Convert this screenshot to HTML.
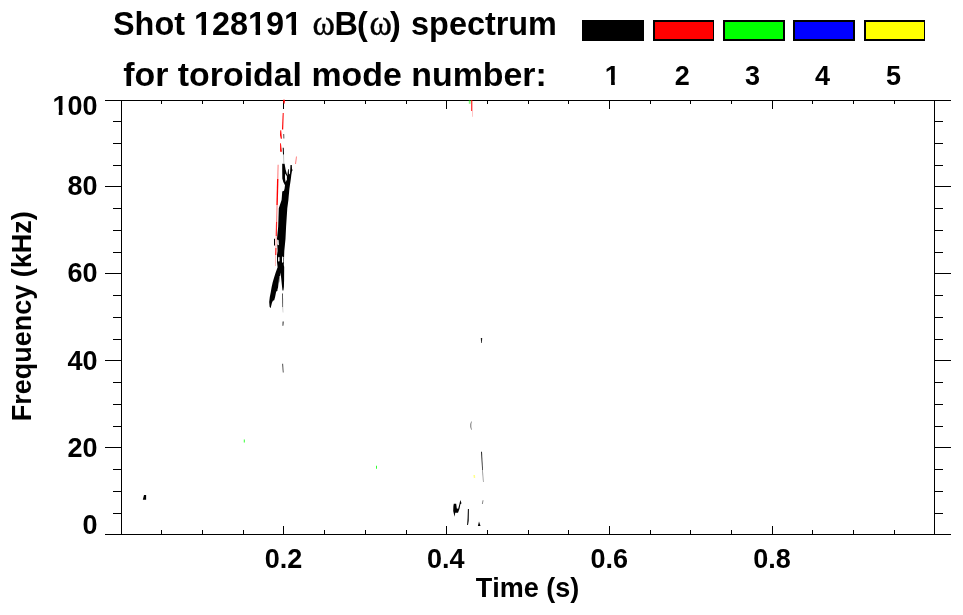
<!DOCTYPE html>
<html><head><meta charset="utf-8"><title>Shot 128191 spectrum</title>
<style>
html,body{margin:0;padding:0;background:#fff;}
body{width:963px;height:615px;overflow:hidden;font-family:"Liberation Sans",sans-serif;}
svg{display:block;will-change:transform;}
.b{font-family:"Liberation Sans",sans-serif;font-weight:bold;fill:#000;font-kerning:none;}
.sym{font-family:"Liberation Serif",serif;font-weight:normal;}
</style></head><body>
<svg width="963" height="615" viewBox="0 0 963 615">
<rect width="963" height="615" fill="#fff"/>
<g class="b" font-size="34">
<text transform="translate(113.0 35.3) scale(0.953 1)">Shot 128191</text>
<rect x="194.78" y="29.63" width="6.77" height="6.47" fill="#fff"/><rect x="206.00" y="29.63" width="6.58" height="6.47" fill="#fff"/><rect x="248.84" y="29.63" width="6.77" height="6.47" fill="#fff"/><rect x="260.06" y="29.63" width="6.58" height="6.47" fill="#fff"/><rect x="284.88" y="29.63" width="6.77" height="6.47" fill="#fff"/><rect x="296.10" y="29.63" width="6.58" height="6.47" fill="#fff"/>
<text class="sym" font-size="36" stroke="#000" stroke-width="0.45" transform="translate(312.6 35.4) scale(0.945 1)">ω</text>
<text transform="translate(334.6 35.3) scale(0.953 1)">B</text>
<text transform="translate(357.0 35.3) scale(0.953 1)">(</text>
<text class="sym" font-size="36" stroke="#000" stroke-width="0.45" transform="translate(369.4 35.4) scale(0.945 1)">ω</text>
<text transform="translate(389.9 35.3) scale(0.953 1)">)</text>
<text transform="translate(411.0924326171875 35.3) scale(0.953 1)">spectrum</text>
<text transform="translate(123.2 85.7) scale(0.997 1)">for toroidal mode number:</text>
</g>
<g shape-rendering="crispEdges">
<rect x="582" y="20" width="62" height="21" fill="#000"/><rect x="584" y="22" width="58" height="17" fill="#000000"/>
<rect x="653" y="20" width="61" height="21" fill="#000"/><rect x="655" y="22" width="58" height="17" fill="#ff0000"/>
<rect x="723" y="20" width="62" height="21" fill="#000"/><rect x="725" y="22" width="58" height="17" fill="#00ff00"/>
<rect x="793" y="20" width="62" height="21" fill="#000"/><rect x="795" y="22" width="58" height="17" fill="#0000ff"/>
<rect x="864" y="20" width="61" height="21" fill="#000"/><rect x="866" y="22" width="58" height="17" fill="#ffff00"/>
</g>
<g class="b" font-size="27" text-anchor="middle">
<text x="612.3" y="84.6">1</text>
<rect x="605.45" y="79.64" width="5.64" height="5.76" fill="#fff"/><rect x="614.80" y="79.64" width="5.48" height="5.76" fill="#fff"/>
<text x="682.3" y="84.6">2</text>
<text x="752.5" y="84.6">3</text>
<text x="822.4" y="84.6">4</text>
<text x="893.4" y="84.6">5</text>
</g>
<path d="M105 100.5H951M105 534.5H951M121.5 100V535M934.5 100V535M161.5 100v4M161.5 535v-5M202.5 100v4M202.5 535v-5M243.5 100v4M243.5 535v-5M283.5 100v9M283.5 535v-9M324.5 100v4M324.5 535v-5M365.5 100v4M365.5 535v-5M406.5 100v4M406.5 535v-5M446.5 100v9M446.5 535v-9M487.5 100v4M487.5 535v-5M528.5 100v4M528.5 535v-5M568.5 100v4M568.5 535v-5M609.5 100v9M609.5 535v-9M650.5 100v4M650.5 535v-5M690.5 100v4M690.5 535v-5M731.5 100v4M731.5 535v-5M772.5 100v9M772.5 535v-9M812.5 100v4M812.5 535v-5M853.5 100v4M853.5 535v-5M894.5 100v4M894.5 535v-5M113 121.5H121M935 121.5H943M113 143.5H121M935 143.5H943M113 165.5H121M935 165.5H943M105 186.5H121M935 186.5H951M113 208.5H121M935 208.5H943M113 230.5H121M935 230.5H943M113 252.5H121M935 252.5H943M105 273.5H121M935 273.5H951M113 295.5H121M935 295.5H943M113 317.5H121M935 317.5H943M113 339.5H121M935 339.5H943M105 360.5H121M935 360.5H951M113 382.5H121M935 382.5H943M113 404.5H121M935 404.5H943M113 426.5H121M935 426.5H943M105 447.5H121M935 447.5H951M113 469.5H121M935 469.5H943M113 491.5H121M935 491.5H943M113 513.5H121M935 513.5H943" stroke="#000" stroke-width="1" fill="none" shape-rendering="crispEdges"/>
<g class="b" font-size="27" text-anchor="end">
<text x="97.5" y="114.6">100</text>
<rect x="53.11" y="109.64" width="5.64" height="5.76" fill="#fff"/><rect x="62.46" y="109.64" width="5.48" height="5.76" fill="#fff"/>
<text x="97.5" y="195.0">80</text>
<text x="97.5" y="282.4">60</text>
<text x="97.5" y="369.7">40</text>
<text x="97.5" y="456.7">20</text>
<text x="97.5" y="534.4">0</text>
</g>
<g class="b" font-size="27" text-anchor="middle">
<text x="283.4" y="568">0.2</text>
<text x="445.7" y="568">0.4</text>
<text x="609.3" y="568">0.6</text>
<text x="771.9" y="568">0.8</text>
<text x="527.6" y="596.6">Time (s)</text>
<text transform="translate(30.9 316.3) rotate(-90)">Frequency (kHz)</text>
</g>
<g id="data">
<!-- main mode n=1 (black) chirp near t=0.2 s -->
<path fill="#000" d="M282.2 163.8 L284.6 163.8 L285.6 169.5 L287.3 175.5 L288 170 L288.3 169 L288.8 169.2 L289 174.5 L290 173.5 L290.5 165 L291.8 165 L292 169 L292.6 170 L291.9 171.5 L291.3 175 L290.9 178.5 L290.4 182 L289.9 185.3 L289.4 188.7 L289.1 192.2 L288.7 196.3 L288.4 200 L287.3 208.3 L286.1 226.6 L285.5 238.8 L284.3 251 L283.8 265 L284.2 267 L284.1 280 L283.9 287 L283.4 290.4 L282.5 290.4 L282.1 287.2 L281.1 277.5 L280.4 272.6 L279.9 277.5 L279.2 282 L278.1 287.2 L277.3 291 L276.2 291.6 L275.1 297 L274.2 300.2 L272.9 300.8 L271.9 303 L270.6 308.2 L269.6 306.7 L269.2 302 L269.8 297 L270.8 292 L271.6 287.2 L272.7 282.3 L274.1 277.5 L275.6 272.8 L277.6 267.2 L277 262 L277 255 L277.6 251 L277 238.8 L278.2 226.6 L278.8 208.3 L281.6 200 L281.9 196.3 L282.2 192.2 L282.2 191.5 L284 190.8 L284.6 188.5 L285 185.3 L283.3 181.9 L282.3 178.5 L282.2 170 Z"/>
<path fill="#fff" d="M285.1 173.6 L286.9 176.2 L286.9 179.4 L285.6 182.2 L285 178 Z"/>
<path fill="#fff" d="M282 257.3 L282.7 256.3 L283.4 257.3 L283.4 262 L282.7 263 L282 262 Z"/>
<path fill="#fff" d="M278.1 257.6 L278.8 256.8 L279.5 257.6 L279.5 261 L278.8 261.8 L278.1 261 Z"/>
<path fill="#fff" d="M279.3 276 L279.9 276 L278.2 290 L277.7 290 Z" opacity="0.8"/>
<path fill="#fff" d="M277.2 239.5 L278.6 240.3 L278.9 245.2 L277.2 244.6 Z"/>
<path fill="#000" d="M282.2 293.5 L283 293.5 L283.1 307 L282.4 307 Z" opacity="0.85"/>
<path fill="#000" d="M282.4 307 L283.1 307 L283.3 312.6 L282.8 312.6 Z" opacity="0.3"/>
<path fill="#000" d="M282.6 321.5 L283.8 321.5 L283.4 325.8 L282.4 325.8 Z" opacity="0.75"/>
<path fill="#000" d="M282.1 363.8 L283.1 363.8 L283.7 372.6 L282.8 372.6 Z" opacity="0.7"/>
<path fill="#000" d="M274 238.8 L275 238.8 L275 245.6 L274 245.6 Z"/>
<!-- upper black fragments -->
<path fill="#000" d="M283.1 134 L284.2 134 L284.4 138.4 L283.3 138.4 Z" opacity="0.6"/>
<path fill="#000" d="M282.7 147.8 L283.7 147.8 L284 154.6 L283 154.6 Z"/>
<path fill="#000" d="M283 154.6 L284 154.6 L284.3 163.5 L283.4 163.5 Z" opacity="0.25"/>
<!-- n=2 (red) -->
<path fill="#f00" d="M283 99.8 L285 99.8 L285 101 L284.6 103.8 L283.8 103.8 L283 102 Z" opacity="0.9"/>
<path fill="#f00" d="M282.7 113 L283.7 113 L283.2 129.6 L282 129.6 Z"/>
<path fill="#f00" d="M280.3 130.3 L281.2 130.3 L281.9 138.7 L280.8 138.7 L280 135 Z"/>
<path fill="#f00" d="M280.1 143.3 L280.9 143.3 L281.9 151.7 L280.1 151.7 Z"/>
<path fill="#f00" d="M296 156.6 L296.9 156.6 L296 163.9 L295.1 163.9 Z" opacity="0.55"/>
<path fill="#f00" d="M277.5 164.8 L278.8 164.8 L278.4 179 L277 179 Z" opacity="0.4"/>
<path fill="#f00" d="M277.05 179 L278.45 179 L277.76 205 L276.36 205 Z" opacity="1.0"/>
<path fill="#f00" d="M276.51 205 L277.61 205 L277.16 222 L276.06 222 Z" opacity="0.5"/>
<path fill="#f00" d="M276.01 222 L277.21 222 L276.84 236 L275.64 236 Z" opacity="0.85"/>
<path fill="#f00" d="M275.79 236 L276.69 236 L276.38 248 L275.48 248 Z" opacity="0.4"/>
<path fill="#f00" d="M275.33 248 L276.53 248 L276.34 255 L275.14 255 Z" opacity="0.9"/>
<path fill="#f00" d="M275.34 255 L276.14 255 L275.85 266 L275.05 266 Z" opacity="0.35"/>
<!-- t=0.43 top -->
<path fill="#0f0" d="M468.8 100 L470.6 100 L470.6 103.8 L468.8 103.8 Z" opacity="0.5"/>
<path fill="#f00" d="M471 100 L472.4 100 L472.4 111 L471 111 Z" opacity="0.75"/>
<path fill="#f00" d="M472 111 L472.9 111 L472.9 116.8 L472 116.8 Z" opacity="0.25"/>
<!-- scattered -->
<path fill="#0f0" d="M243.8 439.5 L244.8 439.5 L244.8 442.5 L243.8 442.5 Z" opacity="0.8"/>
<path fill="#0f0" d="M376 465.8 L377 465.8 L377 468.8 L376 468.8 Z" opacity="0.8"/>
<path fill="#000" d="M144 495 L146.1 495 L146.1 499.8 L142.8 499.8 Z"/>
<path fill="#000" d="M480.8 338 L482.2 338 L481.8 343 L481.2 343 Z" opacity="0.9"/>
<path fill="#000" d="M471.2 421.5 L471.9 421.5 L471.3 424 L471.3 427 L471.9 429.7 L471.2 429.7 L470.2 427 L470.2 424 Z" opacity="0.5"/>
<path fill="#000" d="M481 451.8 L482 451.8 L482.9 470 L482.1 470 Z" opacity="0.85"/>
<path fill="#000" d="M482.1 470 L482.9 470 L483.7 482 L483 482 Z" opacity="0.45"/>
<path fill="#ff0" d="M473.4 475 L475 475 L475.2 478 L473.8 478 Z" opacity="0.45"/>
<path fill="#000" d="M482.6 500.2 L483.5 500.2 L482.8 503.9 L481.9 503.9 Z" opacity="0.5"/>
<path fill="#000" d="M453.8 503.8 L456.2 503.8 L456.8 508.5 L458.2 508.8 L459.5 503.8 L460.3 500 L461.5 503.3 L460.3 504.5 L459.5 508.8 L458 512.8 L455.2 512.8 L454.6 516.8 L453.2 511 L453.4 506 Z"/>
<path fill="#000" d="M467.9 508.9 L468.9 508.9 L468.7 520.7 L468 525 L467.1 525 L467.6 518 Z"/>
<path fill="#000" d="M479 521.5 L480.5 525.9 L477.9 525.9 Z"/>
</g>
</svg>
</body></html>
